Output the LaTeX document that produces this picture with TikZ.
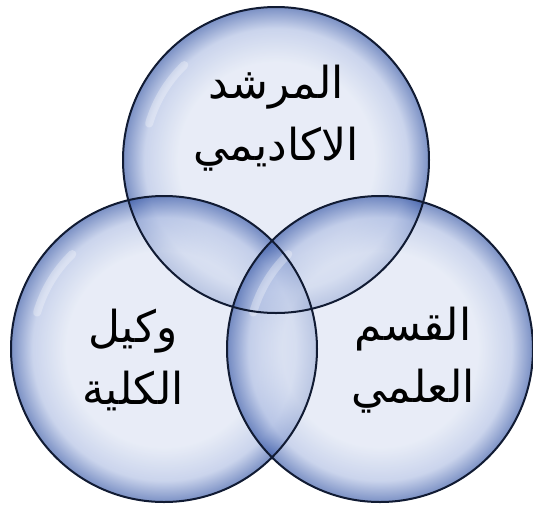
\documentclass[tikz,border=0pt]{standalone}
\usepackage{fontspec}
\newfontfamily\arabicfont[Script=Arabic]{DejaVu Sans}
\TeXXeTstate=1
\definecolor{bin}{HTML}{DCE3F3}
\definecolor{bmid}{HTML}{AFBEE3}
\definecolor{bout}{HTML}{3556A6}
\definecolor{bline}{HTML}{111B33}
\pgfdeclareradialshading{bubble}{\pgfpoint{0bp}{0bp}}{color(0bp)=(bin); color(16bp)=(bin); color(21.5bp)=(bmid); color(25bp)=(bout); color(50bp)=(bout)}
\tikzset{
  bubblefill/.style={circle, minimum size=306pt, inner sep=0pt, shade, shading=bubble, fill opacity=0.65},
  bubbleline/.style={circle, minimum size=306pt, inner sep=0pt, draw=bline, line width=2pt},
  glare/.style={draw=white, line width=8pt, line cap=round, draw opacity=0.3},
  lbl/.style={font=\arabicfont\fontsize{44}{62}\selectfont, align=center, text=black}
}
\begin{document}
\begin{tikzpicture}[x=1pt,y=-1pt]
\useasboundingbox (0,0) rectangle (533,504);
\fill[white] (0,0) rectangle (533,504);
\node[bubblefill] (ftop) at (276,160) {};
\node[bubblefill] (fleft) at (164,349) {};
\node[bubblefill] (fright) at (380,349) {};
\path[glare] (ftop.center) ++(196:132) arc[start angle=196, end angle=226, radius=132];
\path[glare] (fleft.center) ++(196:132) arc[start angle=196, end angle=226, radius=132];
\path[glare] (fright.center) ++(196:132) arc[start angle=196, end angle=226, radius=132];
\node[bubbleline] (ctop) at (276,160) {};
\node[bubbleline] (cleft) at (164,349) {};
\node[bubbleline] (cright) at (380,349) {};
\node[lbl] (ttop) at (276,118) {\beginR المرشد\endR\\\beginR الاكاديمي\endR};
\node[lbl] (tleft) at (133,360) {\beginR وكيل\endR\\\beginR الكلية\endR};
\node[lbl] (tright) at (413,360) {\beginR القسم\endR\\\beginR العلمي\endR};
\end{tikzpicture}
\end{document}
